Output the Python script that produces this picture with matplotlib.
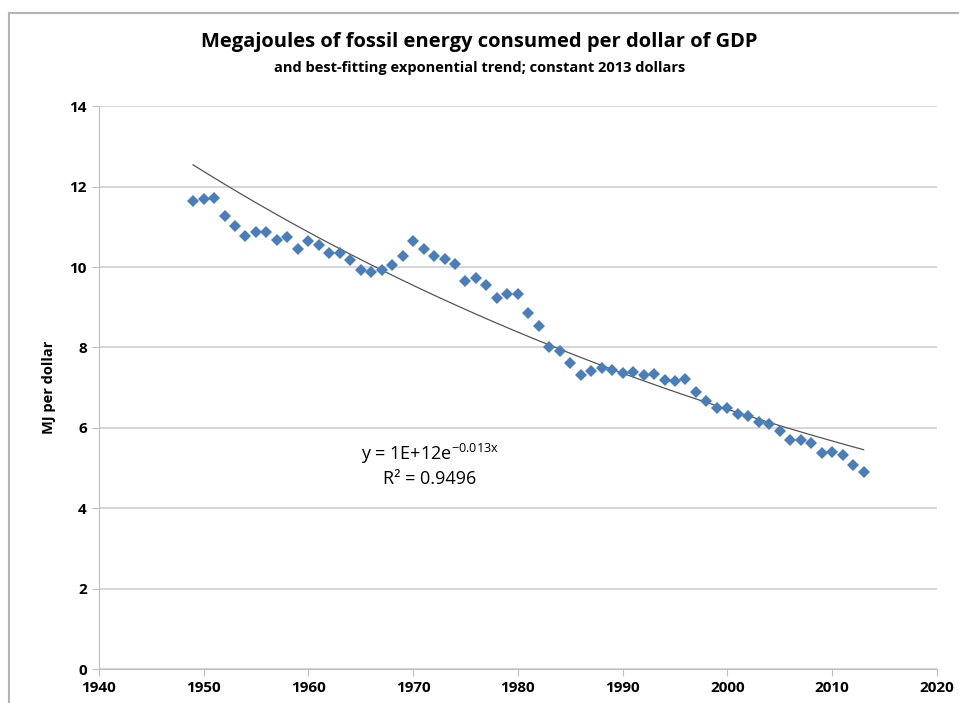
import matplotlib.pyplot as plt
from matplotlib.lines import Line2D
import numpy as np

plt.rcParams['font.family'] = ['Open Sans', 'DejaVu Sans']
plt.rcParams['mathtext.default'] = 'regular'

# years and MJ per dollar
years = np.arange(1949, 2014)
mj_per_dollar = [
    11.64, 11.69, 11.72, 11.27, 11.02, 10.77, 10.87, 10.87, 10.67, 10.75,
    10.45, 10.65, 10.55, 10.35, 10.35, 10.17, 9.93, 9.88, 9.93, 10.05,
    10.27, 10.65, 10.45, 10.27, 10.20, 10.07, 9.65, 9.73, 9.55, 9.23,
    9.33, 9.33, 8.86, 8.53, 8.01, 7.91, 7.61, 7.31, 7.41, 7.49,
    7.44, 7.36, 7.39, 7.31, 7.34, 7.19, 7.16, 7.21, 6.89, 6.67,
    6.49, 6.49, 6.34, 6.29, 6.14, 6.09, 5.92, 5.70, 5.70, 5.62,
    5.37, 5.40, 5.32, 5.07, 4.90,
]
y_ticks = [0, 2, 4, 6, 8, 10, 12, 14]
x_ticks = [1940, 1950, 1960, 1970, 1980, 1990, 2000, 2010, 2020]

# exponential trend fitted to the data
b, a = np.polyfit(years, np.log(mj_per_dollar), 1)
trend = np.exp(a + b * years)

fig = plt.figure(figsize=(9.59, 7.03), dpi=100)
ax = fig.add_axes([0.103, 0.048, 0.874, 0.801])

# chart border (top and left edges visible)
fig.add_artist(Line2D([0.0099, 1], [0.982, 0.982], color='#b4b4b4', lw=1.5,
                      transform=fig.transFigure))
fig.add_artist(Line2D([0.0099, 0.0099], [0, 0.982], color='#b4b4b4', lw=1.5,
                      transform=fig.transFigure))

ax.plot(years, trend, color='#555555', lw=0.9, zorder=2)
ax.plot(years, mj_per_dollar, 'D', color='#4a7ebb', ms=6.5, mew=0, zorder=3)

ax.set_xlim(1940, 2020)
ax.set_ylim(0, 14)
ax.set_xticks(x_ticks)
ax.set_yticks(y_ticks)
ax.grid(axis='y', color='#d0d0d0', lw=1.2)
ax.set_axisbelow(True)
for s in ['top', 'right']:
    ax.spines[s].set_visible(False)
for s in ['left', 'bottom']:
    ax.spines[s].set_color('#bfbfbf')
ax.tick_params(colors='#bfbfbf', length=5, labelcolor='black', labelsize=11)
for lab in ax.get_xticklabels() + ax.get_yticklabels():
    lab.set_fontweight('bold')
ax.set_ylabel('MJ per dollar', fontsize=10.5, fontweight='bold', labelpad=10)

ax.text(1971.6, 5.35, r'y = 1E+12e$^{-0.013x}$', fontsize=13, ha='center', va='center')
ax.text(1971.6, 4.73, 'R² = 0.9496', fontsize=13, ha='center', va='center')

fig.text(0.5, 0.94, 'Megajoules of fossil energy consumed per dollar of GDP',
         ha='center', va='center', fontsize=14.5, fontweight='bold')
fig.text(0.5, 0.903, 'and best-fitting exponential trend; constant 2013 dollars',
         ha='center', va='center', fontsize=10.5, fontweight='bold')

fig.savefig('out.png', dpi=100)
